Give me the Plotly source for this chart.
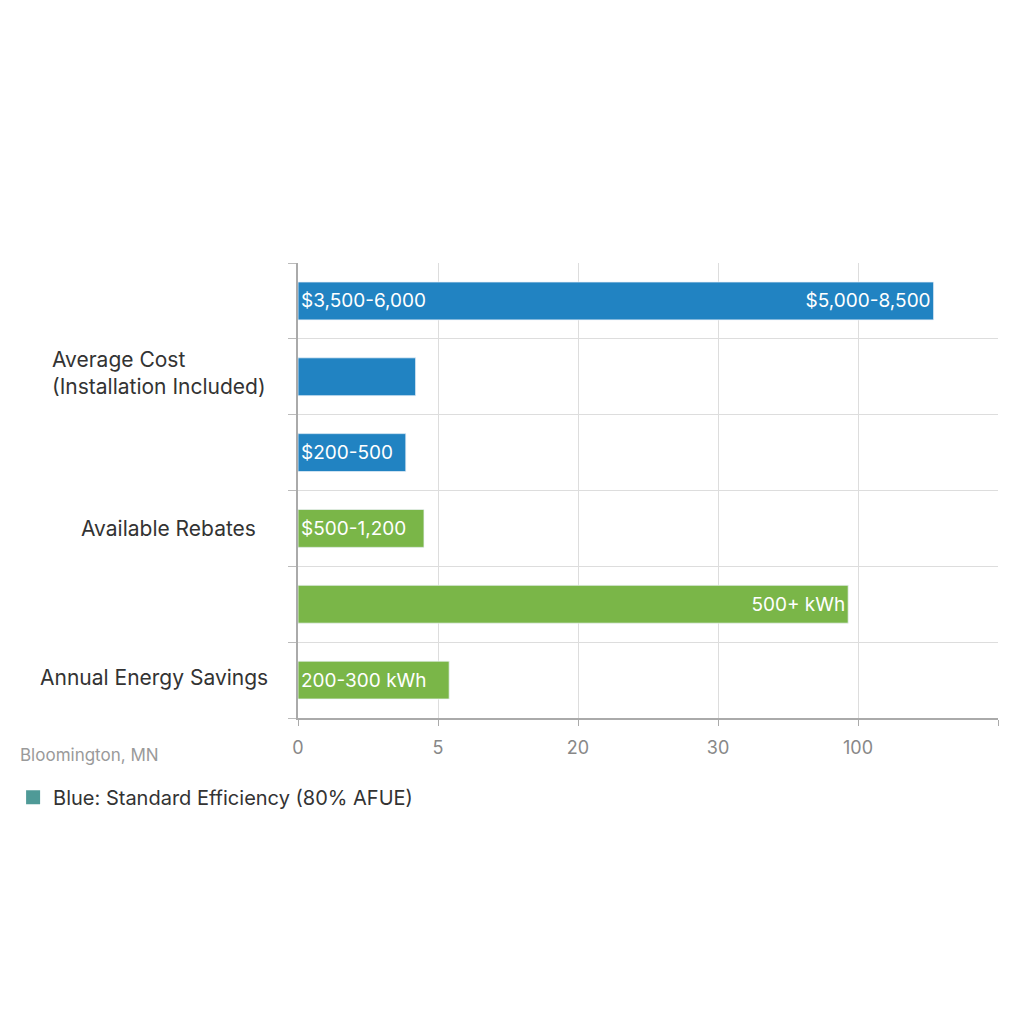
import plotly.graph_objects as go

# bar lengths in axis-position units (ticks sit at 0..5)
rows = [0, 1, 2, 3, 4, 5]
bar_values = [4.54, 0.84, 0.77, 0.90, 3.93, 1.08]
bar_colors = ["#2183c2", "#2183c2", "#2183c2", "#7ab648", "#7ab648", "#7ab648"]
start_labels = ["$3,500-6,000", "", "$200-500", "$500-1,200", "", "200-300 kWh"]
end_labels = ["$5,000-8,500", "", "", "", "500+ kWh", ""]

x_tick_vals = [0, 1, 2, 3, 4, 5]
x_tick_labels = ["0", "5", "20", "30", "100", ""]

group_labels = ["Average Cost<br>(Installation Included)", "Available Rebates", "Annual Energy Savings"]
group_rows = [0.95, 3, 4.97]
group_shift = [-30, -40, -28]

legend_name = "Blue: Standard Efficiency (80% AFUE)"
location_note = "Bloomington, MN"

FONT = "Inter"

fig = go.Figure()

fig.add_trace(
    go.Bar(
        x=bar_values,
        y=rows,
        orientation="h",
        width=0.5,
        marker=dict(color=bar_colors, line=dict(color="rgba(255,255,255,0.4)", width=1)),
        text=start_labels,
        textposition="inside",
        insidetextanchor="start",
        textfont=dict(family=FONT, size=19, color="white"),
        showlegend=False,
        hoverinfo="skip",
    )
)
# same bars again, transparent, to carry the right-hand labels
fig.add_trace(
    go.Bar(
        x=bar_values,
        y=rows,
        orientation="h",
        width=0.5,
        marker=dict(color="rgba(0,0,0,0)"),
        text=end_labels,
        textposition="inside",
        insidetextanchor="end",
        textfont=dict(family=FONT, size=19, color="white"),
        showlegend=False,
        hoverinfo="skip",
    )
)
# legend entry
fig.add_trace(
    go.Scatter(
        x=[None],
        y=[None],
        mode="markers",
        marker=dict(symbol="square", size=14, color="#4f9a97"),
        name=legend_name,
    )
)

for text, row, shift in zip(group_labels, group_rows, group_shift):
    fig.add_annotation(
        x=0,
        xref="paper",
        y=row,
        yref="y",
        text=text,
        showarrow=False,
        xanchor="right",
        xshift=shift,
        align="left",
        font=dict(family=FONT, size=21, color="#333333"),
    )

fig.add_annotation(
    x=0,
    xref="paper",
    y=0,
    yref="paper",
    text=location_note,
    showarrow=False,
    xanchor="left",
    yanchor="middle",
    xshift=-280,
    yshift=-37,
    font=dict(family=FONT, size=17, color="#9a9a9a"),
)

fig.update_layout(
    width=1024,
    height=1024,
    margin=dict(l=290, r=34, t=255, b=314, autoexpand=False),
    barmode="overlay",
    plot_bgcolor="white",
    paper_bgcolor="white",
    font=dict(family=FONT, color="#333333"),
    showlegend=True,
    legend=dict(
        x=-0.407,
        y=-0.174,
        xanchor="left",
        yanchor="middle",
        font=dict(family=FONT, size=20, color="#333333"),
        bgcolor="rgba(0,0,0,0)",
    ),
)
fig.update_xaxes(
    range=[0, 5],
    tickvals=x_tick_vals,
    ticktext=x_tick_labels,
    ticks="outside",
    ticklen=6,
    tickcolor="#aaaaaa",
    showline=True,
    linecolor="#aaaaaa",
    linewidth=2,
    showgrid=True,
    gridcolor="#dddddd",
    gridwidth=1,
    zeroline=False,
    ticklabelstandoff=6,
    tickfont=dict(family=FONT, size=18, color="#888888"),
    fixedrange=True,
)
fig.update_yaxes(
    range=[5.5, -0.5],
    tickvals=[-0.5, 0.5, 1.5, 2.5, 3.5, 4.5, 5.5],
    showticklabels=False,
    ticks="outside",
    ticklen=8,
    tickcolor="#bbbbbb",
    showline=True,
    linecolor="#aaaaaa",
    linewidth=2,
    showgrid=True,
    gridcolor="#dddddd",
    gridwidth=1,
    zeroline=False,
    fixedrange=True,
)

fig.write_html("out.html")
